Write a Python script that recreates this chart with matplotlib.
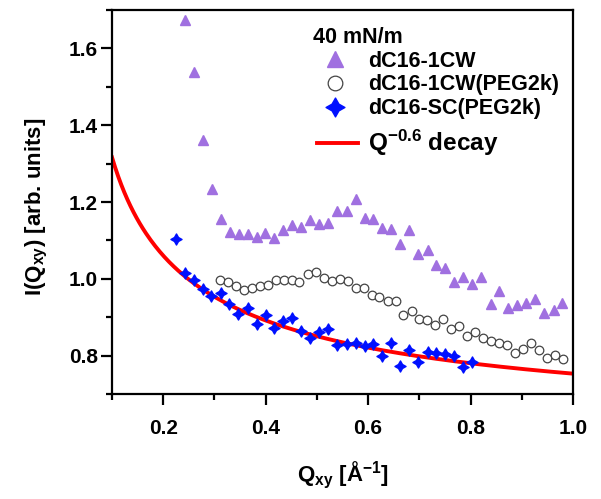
import numpy as np
import matplotlib
matplotlib.use('Agg')
import matplotlib.pyplot as plt
from matplotlib.path import Path
from matplotlib.ticker import MultipleLocator

plt.rcParams['font.family'] = ['Liberation Sans', 'DejaVu Sans']
plt.rcParams['font.weight'] = 'bold'
plt.rcParams['axes.labelweight'] = 'bold'
plt.rcParams['mathtext.fontset'] = 'custom'
plt.rcParams['mathtext.rm'] = 'Liberation Sans:bold'
plt.rcParams['mathtext.it'] = 'Liberation Sans:bold'
plt.rcParams['mathtext.bf'] = 'Liberation Sans:bold'
plt.rcParams['mathtext.default'] = 'bf'

# dC16-1CW (triangles)
q_1cw = [0.243, 0.260, 0.277, 0.295, 0.312, 0.330, 0.347, 0.365, 0.383, 0.399,
         0.416, 0.434, 0.451, 0.469, 0.487, 0.505, 0.522, 0.540, 0.558, 0.576,
         0.593, 0.610, 0.628, 0.645, 0.663, 0.680, 0.698, 0.716, 0.733, 0.751,
         0.768, 0.786, 0.803, 0.821, 0.839, 0.856, 0.874, 0.891, 0.909, 0.926,
         0.944, 0.962, 0.979]
i_1cw = [1.675, 1.538, 1.362, 1.235, 1.157, 1.123, 1.117, 1.117, 1.110, 1.120,
         1.107, 1.128, 1.141, 1.135, 1.152, 1.143, 1.145, 1.176, 1.176, 1.207,
         1.158, 1.157, 1.132, 1.129, 1.090, 1.126, 1.064, 1.074, 1.037, 1.029,
         0.991, 1.005, 0.987, 1.004, 0.935, 0.969, 0.925, 0.933, 0.937, 0.948,
         0.912, 0.920, 0.937]

# dC16-1CW(PEG2k) (open circles)
q_1cw_peg = [0.311, 0.327, 0.342, 0.358, 0.373, 0.389, 0.405, 0.420, 0.436, 0.451,
             0.466, 0.482, 0.498, 0.513, 0.530, 0.545, 0.561, 0.576, 0.592, 0.607,
             0.622, 0.638, 0.654, 0.669, 0.685, 0.700, 0.715, 0.731, 0.747, 0.762,
             0.778, 0.793, 0.809, 0.824, 0.840, 0.856, 0.871, 0.887, 0.902, 0.918,
             0.933, 0.949, 0.964, 0.980]
i_1cw_peg = [0.998, 0.991, 0.982, 0.972, 0.977, 0.982, 0.985, 0.998, 0.998, 0.996,
             0.991, 1.012, 1.019, 1.003, 0.994, 0.999, 0.994, 0.977, 0.977, 0.957,
             0.952, 0.942, 0.942, 0.907, 0.916, 0.896, 0.892, 0.879, 0.896, 0.870,
             0.876, 0.852, 0.861, 0.846, 0.838, 0.833, 0.827, 0.808, 0.816, 0.834,
             0.815, 0.795, 0.802, 0.792]

# dC16-SC(PEG2k) (blue stars)
q_sc_peg = [0.225, 0.2425, 0.260, 0.277, 0.293, 0.313, 0.328, 0.346, 0.365, 0.383,
            0.400, 0.417, 0.434, 0.451, 0.469, 0.487, 0.505, 0.522, 0.540, 0.558,
            0.576, 0.593, 0.610, 0.628, 0.645, 0.663, 0.680, 0.698, 0.716, 0.733,
            0.751, 0.768, 0.786, 0.803]
i_sc_peg = [1.104, 1.015, 0.996, 0.974, 0.954, 0.963, 0.934, 0.909, 0.925, 0.881,
            0.905, 0.872, 0.890, 0.897, 0.864, 0.847, 0.862, 0.870, 0.827, 0.831,
            0.833, 0.825, 0.831, 0.798, 0.834, 0.773, 0.814, 0.783, 0.809, 0.807,
            0.803, 0.798, 0.770, 0.783]

# Q^-0.6 decay: I = offset + amp * Q^-0.6
decay_offset = 0.564
decay_amp = 0.189
decay_exp = -0.6
q_fit = np.linspace(0.1, 1.0, 300)
i_fit = decay_offset + decay_amp * q_fit ** decay_exp

# 4-pointed star marker
s = 0.36
star4 = Path([(0, 1), (s, s), (1, 0), (s, -s), (0, -1), (-s, -s), (-1, 0), (-s, s), (0, 1)],
             [Path.MOVETO] + [Path.LINETO] * 7 + [Path.CLOSEPOLY])

fig = plt.figure(figsize=(6.01, 4.99), dpi=100)
ax = fig.add_axes([112 / 601, 1 - 394 / 499, 461 / 601, 384 / 499])

lfit, = ax.plot(q_fit, i_fit, color='#ff0000', lw=2.8, zorder=2)
l1, = ax.plot(q_1cw, i_1cw, ls='none', marker='^', ms=7, color='#a070e0',
              mec='#a070e0', zorder=3)
l2, = ax.plot(q_1cw_peg, i_1cw_peg, ls='none', marker='o', ms=6.2, mfc='white',
              mec='#444444', mew=0.9, zorder=3)
l3, = ax.plot(q_sc_peg, i_sc_peg, ls='none', marker=star4, ms=8, color='#0010ff',
              zorder=4)

ax.set_xlim(0.1, 1.0)
ax.set_ylim(0.7, 1.7)
ax.xaxis.set_minor_locator(MultipleLocator(0.1))
ax.yaxis.set_minor_locator(MultipleLocator(0.1))
ax.set_xticks([0.2, 0.4, 0.6, 0.8, 1.0])
ax.set_yticks([0.8, 1.0, 1.2, 1.4, 1.6])
ax.tick_params(which='major', direction='out', length=8, width=1.6, labelsize=15, pad=10)
ax.tick_params(which='minor', direction='out', length=4.5, width=1.6)
ax.tick_params(axis='y', which='major', pad=2)
for sp in ax.spines.values():
    sp.set_linewidth(1.6)

ax.set_xlabel(r'Q$_{xy}$ [Å$^{-1}$]', fontsize=16, fontweight='bold', labelpad=15)
ax.set_ylabel(r'I(Q$_{xy}$) [arb. units]', fontsize=16, fontweight='bold')
ax.yaxis.set_label_coords(-0.134, 0.487)

common = dict(loc='upper left', frameon=False, markerscale=1.7,
              borderpad=0, borderaxespad=0)
leg1 = ax.legend([l1, l2, l3], ['dC16-1CW', 'dC16-1CW(PEG2k)', 'dC16-SC(PEG2k)'],
                 title='40 mN/m', alignment='left', bbox_to_anchor=(0.435, 0.956),
                 fontsize=15.5, title_fontproperties={'size': 15.5, 'weight': 'bold'},
                 labelspacing=0.13, handlelength=2.1, handletextpad=0.5, **common)
ax.add_artist(leg1)
leg2 = ax.legend([lfit], [r'Q$^{-0.6}$ decay'], bbox_to_anchor=(0.445, 0.692),
                 fontsize=17.5, handlelength=1.7, handletextpad=0.4, **common)

fig.savefig('out.png', dpi=100)
